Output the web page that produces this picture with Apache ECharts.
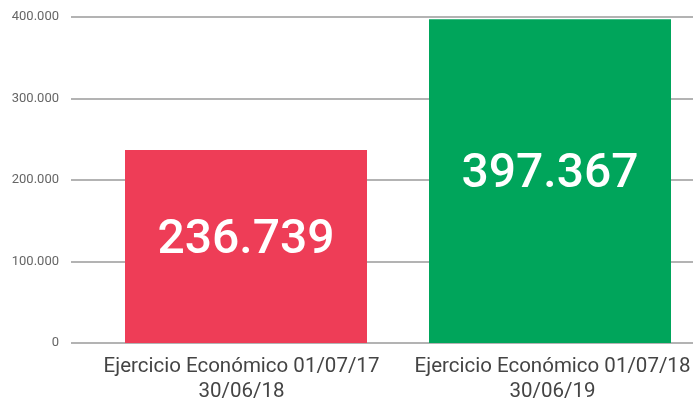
<!DOCTYPE html>
<html>
<head>
<meta charset="utf-8">
<script src="https://cdn.jsdelivr.net/npm/echarts@6/dist/echarts.min.js"></script>
<style>
  html, body { margin: 0; padding: 0; background: #fff; }
  #chart { width: 693px; height: 401px; }
</style>
</head>
<body>
<div id="chart"></div>
<script>
// Two fiscal years and their totals
const categories = ['Ejercicio Económico 01/07/17\n30/06/18', 'Ejercicio Económico 01/07/18\n30/06/19'];
const values = [236739, 397367];
const barColors = ['#EE3D57', '#00A55B'];
const yTicks = [0, 100000, 200000, 300000, 400000];

const fmt = v => v === 0 ? '0' : v.toLocaleString('de-DE');
const FONT = 'Roboto';
const Y_MIN = yTicks[0], Y_MAX = yTicks[yTicks.length - 1];

const chart = echarts.init(document.getElementById('chart'));
chart.setOption({
  animation: false,
  grid: [
    // value labels and gridlines
    { left: 71, right: 0, top: 17, bottom: 58, containLabel: false, outerBoundsMode: 'none' },
    // bars
    { left: 94, width: 608, top: 17, bottom: 58, containLabel: false, outerBoundsMode: 'none' },
    // category labels
    { left: 86, width: 622, top: 17, bottom: 58, containLabel: false, outerBoundsMode: 'none' }
  ],
  xAxis: [
    { gridIndex: 0, type: 'category', data: categories, show: false },
    { gridIndex: 1, type: 'category', data: categories, show: false },
    {
      gridIndex: 2, type: 'category', data: categories,
      axisLine: { show: false }, axisTick: { show: false },
      axisLabel: { color: '#444', fontFamily: FONT, fontSize: 20.5, lineHeight: 25, margin: 11, interval: 0 }
    }
  ],
  yAxis: [
    {
      gridIndex: 0, type: 'value', min: Y_MIN, max: Y_MAX, interval: 100000,
      axisLine: { show: false }, axisTick: { show: false },
      axisLabel: { color: '#666', fontFamily: FONT, fontSize: 13, margin: 12, formatter: fmt },
      splitLine: { lineStyle: { color: '#9a9a9a', width: 1.5 } }
    },
    { gridIndex: 1, type: 'value', min: Y_MIN, max: Y_MAX, interval: 100000, show: false },
    { gridIndex: 2, type: 'value', min: Y_MIN, max: Y_MAX, interval: 100000, show: false }
  ],
  series: [{
    type: 'bar',
    xAxisIndex: 1, yAxisIndex: 1,
    barWidth: 242,
    data: values.map((v, i) => ({ value: v, itemStyle: { color: barColors[i] } })),
    label: {
      show: true, position: 'inside', offset: [0, -6],
      color: '#fff', fontFamily: FONT, fontWeight: 500, fontSize: 48,
      formatter: p => fmt(p.value)
    }
  }]
});
</script>
</body>
</html>
